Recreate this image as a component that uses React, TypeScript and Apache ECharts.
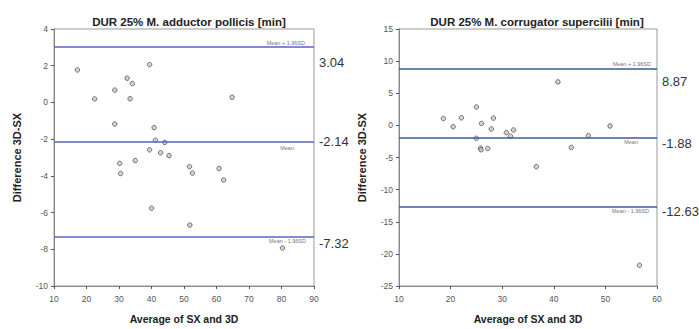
import React, { useEffect, useRef } from "react";
import * as echarts from "echarts";

const leftTitle = "DUR 25% M. adductor pollicis [min]";
const rightTitle = "DUR 25% M. corrugator supercilii [min]";
const xName = "Average of SX and 3D";
const yName = "Difference 3D-SX";

const leftAvg = [17.2, 22.5, 28.7, 32.5, 34.1, 33.4, 39.4, 64.8, 28.7, 40.8, 41.2, 44.1, 39.4, 42.8, 45.4, 35.0, 30.2, 30.5, 51.7, 52.6, 60.8, 62.2, 40.0, 51.8, 80.3];
const leftDiff = [1.77, 0.19, 0.67, 1.32, 1.03, 0.2, 2.06, 0.28, -1.18, -1.37, -2.06, -2.18, -2.58, -2.74, -2.9, -3.17, -3.32, -3.87, -3.5, -3.85, -3.6, -4.23, -5.76, -6.68, -7.93];
const leftLimits = [3.04, -2.14, -7.32];

const rightAvg = [40.8, 25.0, 18.6, 20.5, 22.1, 26.0, 28.3, 27.9, 30.8, 32.2, 31.6, 25.0, 25.8, 25.9, 27.2, 36.6, 43.4, 46.7, 50.9, 56.6];
const rightDiff = [6.77, 2.87, 1.07, -0.21, 1.18, 0.3, 1.13, -0.56, -1.13, -0.72, -1.7, -2.01, -3.55, -3.8, -3.6, -6.42, -3.44, -1.6, -0.1, -21.78];
const rightLimits = [8.87, -1.88, -12.63];

const limitNames = ["Mean + 1.96SD", "Mean", "Mean - 1.96SD"];

export default function App() {
  const ref = useRef<HTMLDivElement>(null);
  useEffect(() => {
    const chart = echarts.init(ref.current!, undefined, { renderer: "svg" });
    const font = "Liberation Sans, Arial, sans-serif";
    const mkX = (gi: number, min: number, max: number) => ({
      type: "value",
      gridIndex: gi,
      min,
      max,
      interval: 10,
      name: xName,
      nameLocation: "middle",
      nameGap: 27,
      nameTextStyle: { fontFamily: font, fontWeight: "bold", fontSize: 10.5, color: "#222" },
      axisLine: { show: true, onZero: false, lineStyle: { color: "#888" } },
      axisTick: { show: true, length: 3, lineStyle: { color: "#555" } },
      axisLabel: { fontFamily: font, fontSize: 8.5, color: "#555", margin: 8 },
      splitLine: { show: false },
    });
    const mkY = (gi: number, min: number, max: number, interval: number) => ({
      type: "value",
      gridIndex: gi,
      min,
      max,
      interval,
      name: yName,
      nameLocation: "middle",
      nameGap: 32,
      nameTextStyle: { fontFamily: font, fontWeight: "bold", fontSize: 11, color: "#222" },
      axisLine: { show: true, onZero: false, lineStyle: { color: "#888" } },
      axisTick: { show: true, length: 3, lineStyle: { color: "#555" } },
      axisLabel: { fontFamily: font, fontSize: 8.5, color: "#555", margin: 6 },
      splitLine: { show: false },
    });
    const mkScatter = (gi: number, xs: number[], ys: number[], limits: number[], color: string) => ({
      type: "scatter",
      xAxisIndex: gi,
      yAxisIndex: gi,
      data: xs.map((x, i) => [x, ys[i]]),
      symbol: "circle",
      symbolSize: 4.5,
      itemStyle: { color: "#c8c8c8", borderColor: "#555", borderWidth: 1 },
      markLine: {
        silent: true,
        symbol: "none",
        animation: false,
        lineStyle: { color, width: 1.5, type: "solid" },
        label: { show: false },
        data: limits.map((v) => ({ yAxis: v })),
      },
    });
    chart.setOption({
      animation: false,
      title: [
        {
          text: leftTitle,
          left: 184,
          top: 11,
          textAlign: "center",
          textStyle: { fontFamily: font, fontWeight: "bold", fontSize: 11.5, color: "#222" },
        },
        {
          text: rightTitle,
          left: 532,
          top: 11,
          textAlign: "center",
          textStyle: { fontFamily: font, fontWeight: "bold", fontSize: 11.5, color: "#222" },
        },
      ],
      grid: [
        { left: 54, right: 385, top: 29, bottom: 40, show: true, borderColor: "#999", borderWidth: 1 },
        { left: 399, right: 42, top: 29, bottom: 40, show: true, borderColor: "#999", borderWidth: 1 },
      ],
      xAxis: [mkX(0, 10, 90), mkX(1, 10, 60)],
      yAxis: [mkY(0, -10, 4, 2), mkY(1, -25, 15, 5)],
      series: [
        mkScatter(0, leftAvg, leftDiff, leftLimits, "#5a62c4"),
        mkScatter(1, rightAvg, rightDiff, rightLimits, "#3d5a99"),
      ],
    });

    const graphics: any[] = [];
    const addLabels = (gi: number, xmax: number, limits: number[], valOff: number[], nameOff: number[], nameRight: number[]) => {
      limits.forEach((v, i) => {
        const p = chart.convertToPixel({ xAxisIndex: gi, yAxisIndex: gi }, [xmax, v]) as number[];
        graphics.push({
          type: "text",
          x: p[0] + 5,
          y: p[1] + valOff[i],
          style: {
            text: v.toFixed(2),
            fontFamily: font,
            fontSize: 13,
            fill: "#333",
            align: "left",
            verticalAlign: "middle",
          },
        });
        graphics.push({
          type: "text",
          x: p[0] - nameRight[i],
          y: p[1] + nameOff[i],
          style: {
            text: limitNames[i],
            fontFamily: font,
            fontSize: 5.5,
            fill: "#777",
            align: "right",
            verticalAlign: "middle",
          },
        });
      });
    };
    addLabels(0, 90, leftLimits, [16, 0, 7], [-3.5, 6.5, 4.5], [9, 20, 8]);
    addLabels(1, 60, rightLimits, [13, 6, 5], [-4, 4.5, 4.5], [6, 19, 8]);
    chart.setOption({ graphic: graphics });

    return () => chart.dispose();
  }, []);
  return <div ref={ref} style={{ width: 699, height: 329, position: "absolute", left: 0, top: 0 }} />;
}
